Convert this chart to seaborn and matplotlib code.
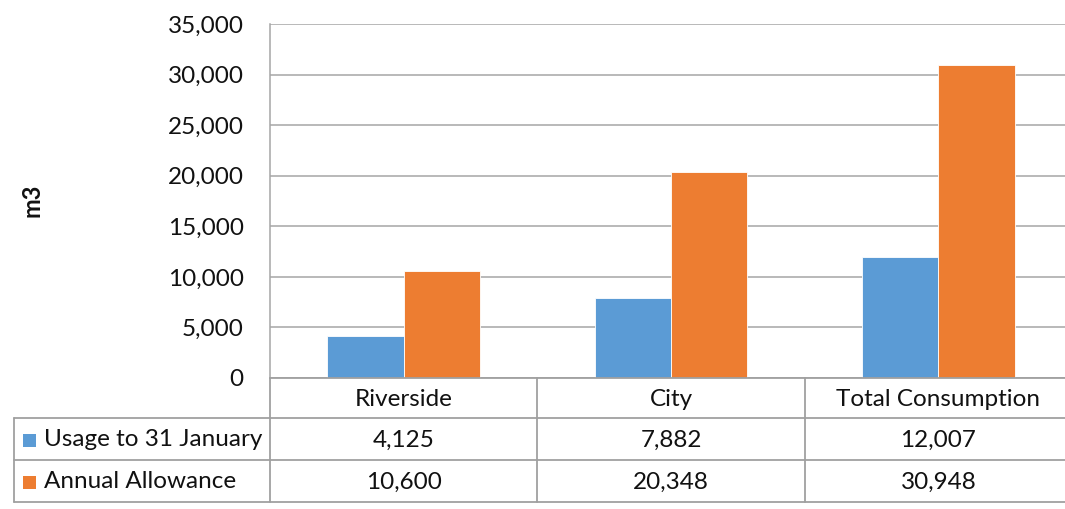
import matplotlib
matplotlib.use("Agg")
import matplotlib.pyplot as plt
from matplotlib.lines import Line2D
from matplotlib.patches import Rectangle
from matplotlib.ticker import FuncFormatter, MultipleLocator
import matplotlib.transforms as mtrans
import pandas as pd
import seaborn as sns

# Data
sites = ["Riverside", "City", "Total Consumption"]
series_names = ["Usage to 31 January", "Annual Allowance"]
usage = [4125, 7882, 12007]
allowance = [10600, 20348, 30948]
colors = ["#5B9BD5", "#ED7D31"]

df = pd.DataFrame({
    "Site": sites * 2,
    "Series": [series_names[0]] * 3 + [series_names[1]] * 3,
    "m3": usage + allowance,
})

sns.set_theme(style="white")
plt.rcParams["font.family"] = ["Lato", "DejaVu Sans"]

W, H = 1065, 509
fig = plt.figure(figsize=(W / 100, H / 100), dpi=100)
fx = lambda x: x / W
fy = lambda y: 1 - y / H

ax = fig.add_axes([fx(270), fy(378), fx(1072 - 270), (378 - 24) / H])
sns.barplot(data=df, x="Site", y="m3", hue="Series", palette=colors,
            width=0.57, gap=0, legend=False, ax=ax,
            edgecolor="white", linewidth=0.6, saturation=1)

ax.set_ylim(0, 35000)
ax.set_xlim(-0.5, 2.5)
ax.yaxis.set_major_locator(MultipleLocator(5000))
ax.yaxis.set_major_formatter(FuncFormatter(lambda v, p: f"{int(v):,}"))
ax.grid(axis="y", color="#A6A6A6", linewidth=1.1)
ax.set_axisbelow(True)
for s in ["top", "right", "bottom"]:
    ax.spines[s].set_visible(False)
ax.spines["left"].set_color("#A6A6A6")
ax.spines["left"].set_linewidth(1.1)
ax.tick_params(axis="y", length=0, pad=19, labelsize=17.5, labelcolor="#111111")
ax.set_xticks([])
ax.set_xlabel("")
ax.set_ylabel("")
fig.text(fx(32), fy(200), "m3", rotation=90, ha="center", va="center",
         fontsize=17, fontweight="bold", color="#111111")

# Data table below the plot
line_kw = dict(color="#A0A0A0", linewidth=1.3)
blend = mtrans.blended_transform_factory(ax.transData, fig.transFigure)
row_y = [378, 418, 460, 502]

# horizontal rules
fig.add_artist(Line2D([fx(270), 1.01], [fy(378)] * 2, **line_kw))
for y in row_y[1:]:
    fig.add_artist(Line2D([fx(14), 1.01], [fy(y)] * 2, **line_kw))
# vertical rules
fig.add_artist(Line2D([fx(14), fx(14)], [fy(418), fy(502)], **line_kw))
for xb in [-0.5, 0.5, 1.5, 2.5]:
    fig.add_artist(Line2D([xb, xb], [fy(378), fy(502)], transform=blend, **line_kw))

txt_kw = dict(ha="center", va="center", fontsize=17.5, color="#111111")
for i, name in enumerate(sites):
    fig.text(i, fy(399), name, transform=blend, **txt_kw)
for r, (vals, name, col) in enumerate(zip([usage, allowance], series_names, colors)):
    yc = (row_y[r + 1] + row_y[r + 2]) / 2 + 1
    for i, v in enumerate(vals):
        fig.text(i, fy(yc), f"{v:,}", transform=blend, **txt_kw)
    fig.add_artist(Rectangle((fx(23), fy(yc + 7)), fx(13), 13 / H,
                             facecolor=col, edgecolor="none"))
    fig.text(fx(44), fy(yc), name, ha="left", va="center",
             fontsize=17.5, color="#111111")

fig.savefig("out.png", dpi=100)
